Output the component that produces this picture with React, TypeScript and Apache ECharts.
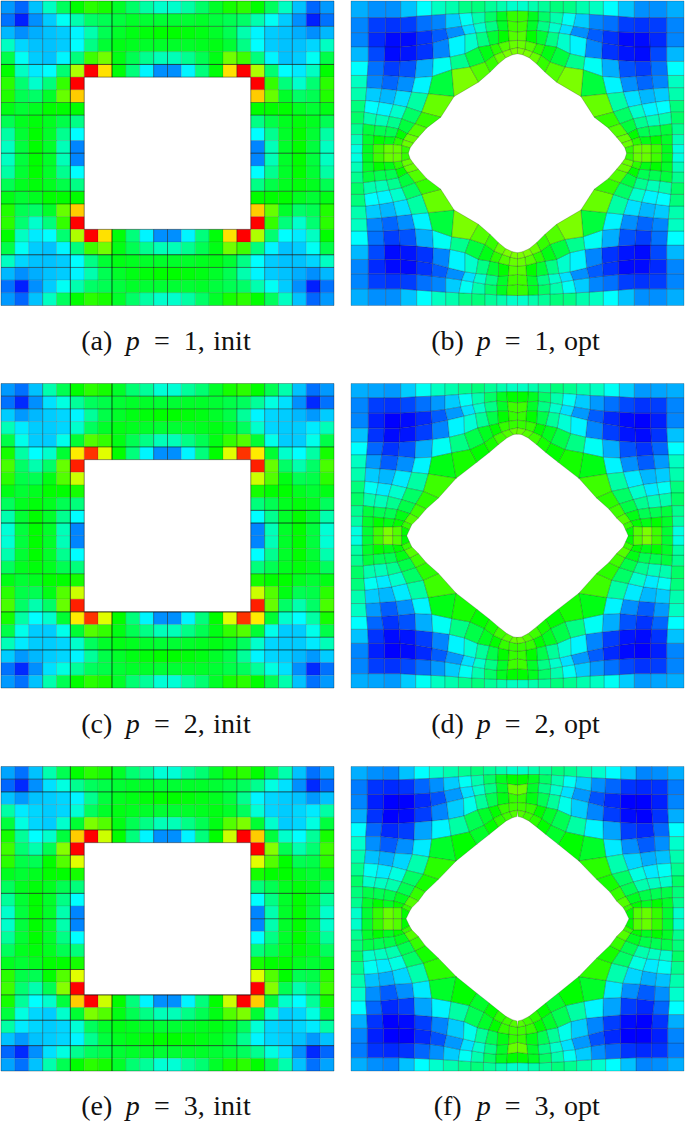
import React, { useEffect, useRef } from "react";
import * as echarts from "echarts";

// Cell values (top-left quadrant; every panel is mirrored about its centre). 0 = blue, 1 = red.
const INIT_P1 = [
  [.15,.10,.19,.31,.41,.50,.54,.52,.46,.40,.34,.30],
  [.11,.03,.14,.20,.26,.33,.40,.42,.44,.46,.45,.45],
  [.18,.14,.17,.19,.20,.24,.33,.42,.46,.48,.49,.50],
  [.31,.21,.19,.19,.20,.25,.37,.45,.48,.47,.46,.46],
  [.43,.26,.20,.19,.24,.38,.56,.61,.48,.42,.36,.32],
  [.50,.31,.23,.25,.39,.67,1.0,.78,.49,.38,.24,.14],
  [.54,.39,.30,.38,.55,1.0],
  [.53,.42,.40,.46,.60,.80],
  [.48,.45,.47,.50,.50,.50],
  [.42,.47,.49,.47,.43,.37],
  [.34,.45,.50,.46,.36,.25],
  [.31,.44,.50,.46,.32,.13],
];
const INIT_P2 = [
  [.15,.11,.19,.33,.42,.50,.54,.52,.46,.39,.35,.29],
  [.11,.04,.14,.22,.28,.35,.41,.43,.45,.46,.46,.45],
  [.20,.15,.18,.20,.21,.24,.35,.43,.46,.48,.49,.50],
  [.32,.23,.20,.20,.21,.30,.41,.46,.48,.47,.46,.45],
  [.43,.27,.20,.20,.27,.45,.58,.55,.48,.42,.37,.32],
  [.52,.34,.25,.30,.45,.77,.95,.72,.50,.38,.24,.14],
  [.57,.40,.33,.40,.60,.97],
  [.54,.43,.42,.48,.58,.70],
  [.48,.45,.47,.50,.50,.52],
  [.41,.47,.49,.47,.42,.38],
  [.33,.45,.50,.46,.36,.25],
  [.29,.44,.50,.46,.32,.13],
];
const INIT_P3 = [
  [.16,.11,.19,.33,.42,.50,.54,.52,.46,.39,.35,.29],
  [.10,.04,.14,.22,.28,.36,.41,.43,.45,.46,.46,.45],
  [.19,.15,.19,.20,.21,.24,.36,.44,.47,.48,.49,.50],
  [.34,.23,.21,.20,.21,.29,.41,.46,.48,.47,.46,.45],
  [.44,.28,.21,.20,.30,.45,.62,.58,.48,.42,.37,.32],
  [.52,.35,.25,.30,.44,.80,1.0,.70,.50,.38,.24,.14],
  [.56,.39,.33,.42,.63,1.0],
  [.54,.43,.42,.50,.58,.72],
  [.47,.45,.47,.50,.50,.52],
  [.41,.47,.49,.47,.42,.38],
  [.35,.45,.50,.46,.37,.25],
  [.30,.44,.50,.46,.33,.13],
];
const OPT_P1 = [
  [.17,.14,.14,.19,.25,.31,.33,.37,.38,.35,.33,.30],
  [.13,.06,.05,.06,.11,.13,.20,.26,.33,.40,.47,.55],
  [.13,.04,.01,.01,.05,.09,.14,.22,.30,.37,.46,.56],
  [.18,.07,.01,.02,.05,.13,.24,.30,.37,.45,.50,.58],
  [.25,.11,.06,.08,.17,.26,.36,.44,.48,.54,.58,.60],
  [.31,.13,.10,.14,.24,.44,.62,.58,.55,.60,.62,.62],
  [.33,.20,.18,.22,.34,.60],
  [.38,.25,.24,.30,.40,.55],
  [.40,.33,.32,.36,.44,.58],
  [.36,.44,.42,.42,.50,.60],
  [.32,.46,.50,.48,.54,.60],
  [.28,.47,.56,.60,.60,.55],
];
const OPT_P2 = [
  [.17,.16,.15,.20,.26,.31,.33,.36,.38,.35,.33,.31],
  [.13,.06,.05,.07,.11,.15,.20,.26,.33,.40,.47,.50],
  [.13,.03,.00,.01,.04,.09,.15,.22,.30,.37,.46,.56],
  [.19,.05,.01,.02,.06,.13,.24,.29,.35,.43,.50,.55],
  [.25,.10,.05,.08,.17,.26,.37,.43,.47,.50,.55,.55],
  [.31,.15,.09,.14,.24,.48,.52,.50,.52,.56,.58,.60],
  [.33,.20,.18,.23,.34,.56],
  [.38,.26,.23,.30,.40,.54],
  [.40,.33,.32,.36,.43,.56],
  [.36,.44,.42,.42,.48,.58],
  [.34,.46,.50,.48,.50,.55],
  [.28,.45,.56,.62,.58,.50],
];
const OPT_P3 = [
  [.17,.14,.13,.19,.25,.30,.33,.36,.38,.35,.33,.30],
  [.12,.05,.04,.05,.10,.14,.20,.26,.33,.40,.47,.50],
  [.13,.03,.00,.00,.04,.08,.15,.22,.30,.37,.46,.60],
  [.17,.05,.00,.01,.06,.13,.20,.27,.35,.42,.48,.55],
  [.25,.10,.04,.06,.16,.24,.34,.42,.46,.50,.55,.56],
  [.30,.14,.09,.14,.23,.46,.50,.46,.50,.54,.56,.58],
  [.33,.19,.17,.21,.33,.54],
  [.36,.26,.23,.28,.40,.52],
  [.40,.30,.31,.33,.42,.55],
  [.38,.43,.42,.43,.47,.58],
  [.36,.46,.50,.47,.50,.55],
  [.30,.45,.55,.60,.58,.50],
];

// Node positions of the optimised meshes (top-left quadrant), in axis units.
const NODE_X_P1 = [
  [3,55,107,152,200,245,287,327,365,405,440,470,502],
  [3,55,107,152,200,245,287,327,365,405,440,470,502],
  [3,55,107,152,200,245,287,335,370,405,440,472,502],
  [3,55,105,152,200,248,295,345,378,410,445,475,502],
  [3,55,103,150,200,250,300,345,385,420,445,477,502],
  [3,52,100,147,195,247,305,360,405,432,457,480,502],
  [3,50,95,140,185,235,312,385,420,445,467,487,502],
  [3,47,88,130,170,215,272],
  [3,43,80,118,155,195,230],
  [3,40,75,110,145,172,205],
  [3,38,72,105,137,160,190],
  [3,38,70,102,130,155,180],
  [3,37,70,102,130,155,175],
];
const NODE_Y_P1 = [
  [2,2,2,2,2,2,2,2,2,2,2,2,2],
  [52,52,52,52,48,45,42,40,38,36,34,33,32],
  [97,97,97,97,95,90,85,78,72,66,62,62,65],
  [140,140,140,140,135,128,115,103,98,95,90,92,95],
  [183,183,183,183,180,175,170,160,140,135,130,122,120],
  [225,225,225,228,232,228,208,200,185,165,155,147,142],
  [262,262,265,270,275,280,288,245,215,190,172,163,160],
  [300,300,305,312,320,335,350],
  [335,335,342,348,355,370,382],
  [370,370,375,378,385,400,410],
  [402,402,405,408,410,418,428],
  [432,432,432,432,432,435,442],
  [458,458,458,458,458,458,458],
];
const NODE_X_P2 = [
  [3,55,103,152,197,243,285,325,365,403,440,470,502],
  [3,55,103,152,197,243,285,325,365,403,440,470,502],
  [3,55,103,152,197,243,285,332,368,403,440,472,502],
  [3,55,103,150,197,246,293,342,376,408,443,475,502],
  [3,53,101,148,197,248,298,343,383,418,445,477,502],
  [3,50,95,145,195,245,305,360,403,430,455,478,502],
  [3,47,90,138,185,235,318,380,418,445,470,490,505],
  [3,45,85,125,170,220,265],
  [3,42,78,115,155,197,228],
  [3,40,72,108,142,180,205],
  [3,38,70,102,135,163,185],
  [3,37,70,100,128,155,178],
  [3,37,70,100,128,155,170],
];
const NODE_Y_P2 = [
  [2,2,2,2,2,2,2,2,2,2,2,2,2],
  [45,45,45,45,42,40,38,35,32,30,28,27,27],
  [91,91,91,91,88,85,80,72,66,60,55,57,60],
  [136,136,136,136,130,122,112,100,92,88,85,85,90],
  [178,178,178,178,175,170,163,152,135,128,122,115,112],
  [216,216,216,220,225,223,210,200,180,160,148,140,135],
  [255,255,258,262,268,273,286,238,208,185,165,155,153],
  [295,295,300,305,315,325,345],
  [330,330,335,340,350,363,378],
  [368,368,372,375,380,392,405],
  [400,400,402,405,408,415,425],
  [430,430,432,432,432,430,440],
  [458,458,458,458,458,458,458],
];
const NODE_X_P3 = [
  [3,52,100,147,193,238,280,325,363,400,437,470,502],
  [3,52,100,147,193,238,280,325,363,400,437,470,502],
  [3,52,100,147,193,240,282,330,366,402,438,472,502],
  [3,52,100,147,194,244,290,340,374,406,441,475,502],
  [3,50,97,145,194,246,296,342,382,416,443,477,502],
  [3,47,92,145,192,245,303,358,402,430,455,478,502],
  [3,47,90,135,187,237,318,380,418,445,468,488,500],
  [3,43,85,127,170,220,265],
  [3,40,78,115,155,195,225],
  [3,38,72,105,140,178,205],
  [3,38,70,100,132,163,185],
  [3,36,68,100,130,155,178],
  [3,36,68,100,130,155,168],
];
const NODE_Y_P3 = [
  [2,2,2,2,2,2,2,2,2,2,2,2,2],
  [42,42,42,42,40,38,36,33,30,28,26,26,27],
  [86,86,86,86,85,82,76,66,62,56,52,54,58],
  [130,130,130,130,128,122,110,98,90,85,80,82,88],
  [171,171,172,172,170,165,160,150,132,125,118,112,110],
  [212,212,212,218,222,220,210,198,178,158,146,138,133],
  [253,253,256,262,265,273,285,235,205,183,165,155,152],
  [292,292,295,302,313,325,340],
  [330,330,335,338,348,362,378],
  [362,362,365,370,378,392,405],
  [395,395,398,402,405,415,425],
  [425,425,425,425,425,425,437],
  [458,458,458,458,458,458,458],
];

// Grid lines that print darker in each initial-mesh panel: [line index, darkness].
const DARK_COLS = [
  [[3,.35],[5,.8],[8,.85],[11,.45],[12,.6],[17,.4],[19,.4],[21,.5],[23,.3]],
  [[3,.4],[5,.8],[8,.85],[11,.45],[12,.6],[17,.4],[19,.4],[20,.35],[21,.4]],
  [[3,.4],[5,.8],[8,.85],[11,.45],[12,.6],[17,.4],[19,.4],[21,.4]],
];
const DARK_ROWS = [
  [[1,.35],[2,.45],[5,.85],[8,.4],[9,.55],[12,.7],[15,.55],[16,.4],[20,.85],[21,.6]],
  [[1,.5],[2,.4],[5,.6],[10,.8],[11,.85],[15,.4],[18,.8],[20,.6],[21,.8]],
  [[1,.5],[2,.8],[5,.6],[7,.4],[10,.8],[12,.6],[16,.8],[18,.6],[20,.85],[22,.8]],
];

const JET: number[][] = [
  [0,0,255],[0,128,255],[0,255,255],[0,255,128],[0,255,0],[128,255,0],[255,255,0],[255,128,0],[255,0,0],
];
function jet(v: number) {
  const t = Math.max(0, Math.min(1, v)) * (JET.length - 1);
  const i = Math.min(JET.length - 2, Math.floor(t));
  const f = t - i;
  const c = JET[i].map((a, k) => Math.round(a + (JET[i + 1][k] - a) * f));
  return `rgb(${c[0]},${c[1]},${c[2]})`;
}

const inHole = (c: number, r: number) => c >= 6 && c < 18 && r >= 6 && r < 18;

function initCells(q: number[][]) {
  const out: number[][] = [];
  for (let r = 0; r < 24; r++) {
    for (let c = 0; c < 24; c++) {
      if (inHole(c, r)) continue;
      const rr = r < 12 ? r : 23 - r;
      const cc = c < 12 ? c : 23 - c;
      out.push([c, r, q[rr][cc]]);
    }
  }
  return out;
}

function lineSegments(cols: number[][], rows: number[][]) {
  const out: number[][] = [];
  for (const [k, d] of cols) {
    for (let r = 0; r < 24; r++) {
      if (!(inHole(k, r) && inHole(k - 1, r))) out.push([k, r, k, r + 1, d]);
    }
  }
  for (const [k, d] of rows) {
    for (let c = 0; c < 24; c++) {
      if (!(inHole(c, k) && inHole(c, k - 1))) out.push([c, k, c + 1, k, d]);
    }
  }
  // outline of the plate and of its hole
  for (let t = 0; t < 24; t++) {
    out.push([t, 0, t + 1, 0, 0.3], [t, 24, t + 1, 24, 0.3], [0, t, 0, t + 1, 0.3], [24, t, 24, t + 1, 0.3]);
    if (t >= 6 && t < 18) {
      out.push([t, 6, t + 1, 6, 0.5], [t, 18, t + 1, 18, 0.5], [6, t, 6, t + 1, 0.5], [18, t, 18, t + 1, 0.5]);
    }
  }
  return out;
}

function optCells(q: number[][], X: number[][], Y: number[][]) {
  const out: number[][] = [];
  const mx = (v: number, flip: boolean) => (flip ? 1004 - v : v);
  const my = (v: number, flip: boolean) => (flip ? 916 - v : v);
  for (let i = 0; i < 12; i++) {
    for (let j = 0; j < 12; j++) {
      if (i >= 6 && j >= 6) continue;
      for (const fx of [false, true]) {
        for (const fy of [false, true]) {
          out.push([
            mx(X[i][j], fx), my(Y[i][j], fy),
            mx(X[i][j + 1], fx), my(Y[i][j + 1], fy),
            mx(X[i + 1][j + 1], fx), my(Y[i + 1][j + 1], fy),
            mx(X[i + 1][j], fx), my(Y[i + 1][j], fy),
            q[i][j],
          ]);
        }
      }
    }
  }
  return out;
}

const renderInit = (_p: any, api: any) => {
  const a = api.coord([api.value(0), api.value(1)]);
  const b = api.coord([api.value(0) + 1, api.value(1) + 1]);
  return {
    type: "rect",
    shape: { x: a[0], y: a[1], width: b[0] - a[0], height: b[1] - a[1] },
    style: { fill: jet(api.value(2)), stroke: "rgba(40,40,40,0.22)", lineWidth: 0.6 },
  };
};

const renderSegment = (_p: any, api: any) => {
  const a = api.coord([api.value(0), api.value(1)]);
  const b = api.coord([api.value(2), api.value(3)]);
  return {
    type: "line",
    shape: { x1: a[0], y1: a[1], x2: b[0], y2: b[1] },
    style: { stroke: `rgba(0,0,0,${api.value(4)})`, lineWidth: 0.7, fill: "none" },
  };
};

const renderOpt = (_p: any, api: any) => {
  const pts = [0, 2, 4, 6].map((k) => api.coord([api.value(k), api.value(k + 1)]));
  return {
    type: "polygon",
    shape: { points: pts },
    style: { fill: jet(api.value(8)), stroke: "rgba(30,30,30,0.4)", lineWidth: 0.6 },
  };
};

const TOPS = [1, 383.5, 766.5];
const LABEL_TOPS = [321, 704, 1086];
const LABEL_SHIFT = -9;
const PANEL_H = 304.5;
const PANEL_W = 333;
const LEFTS = [1, 351];
const LETTERS = [["(a)", "(b)"], ["(c)", "(d)"], ["(e)", "(f)"]];
const ORDERS = ["1", "2", "3"];
const MODES = ["init", "opt"];

export default function App() {
  const ref = useRef<HTMLDivElement>(null);
  useEffect(() => {
    document.body.style.margin = "0";
    const chart = echarts.init(ref.current!, undefined, { renderer: "svg" });
    const grids: any[] = [];
    const xAxes: any[] = [];
    const yAxes: any[] = [];
    const series: any[] = [];
    const titles: any[] = [];
    const inits = [INIT_P1, INIT_P2, INIT_P3];
    const opts = [OPT_P1, OPT_P2, OPT_P3];
    const nx = [NODE_X_P1, NODE_X_P2, NODE_X_P3];
    const ny = [NODE_Y_P1, NODE_Y_P2, NODE_Y_P3];
    const base = { fontFamily: "Liberation Serif", fontSize: 28, fontWeight: "normal", color: "#111" };
    for (let row = 0; row < 3; row++) {
      for (let col = 0; col < 2; col++) {
        const idx = grids.length;
        grids.push({ left: LEFTS[col], top: TOPS[row], width: PANEL_W, height: PANEL_H, show: false });
        if (col === 0) {
          xAxes.push({ type: "value", gridIndex: idx, min: 0, max: 24, show: false });
          yAxes.push({ type: "value", gridIndex: idx, min: 0, max: 24, inverse: true, show: false });
          series.push({
            type: "custom", xAxisIndex: idx, yAxisIndex: idx, renderItem: renderInit,
            data: initCells(inits[row]), encode: { x: 0, y: 1 }, silent: true, clip: false,
          });
          series.push({
            type: "custom", xAxisIndex: idx, yAxisIndex: idx, renderItem: renderSegment,
            data: lineSegments(DARK_COLS[row], DARK_ROWS[row]), encode: { x: [0, 2], y: [1, 3] }, silent: true, clip: false,
          });
        } else {
          xAxes.push({ type: "value", gridIndex: idx, min: 3, max: 1001, show: false });
          yAxes.push({ type: "value", gridIndex: idx, min: 2, max: 914, inverse: true, show: false });
          series.push({
            type: "custom", xAxisIndex: idx, yAxisIndex: idx, renderItem: renderOpt,
            data: optCells(opts[row], nx[row], ny[row]), encode: { x: [0, 2, 4, 6], y: [1, 3, 5, 7] }, silent: true, clip: false,
          });
        }
        titles.push({
          left: LEFTS[col] + PANEL_W / 2 + LABEL_SHIFT,
          top: LABEL_TOPS[row],
          textAlign: "center",
          text: `{a|${LETTERS[row][col]} }{p|p }{e|= }{n|${ORDERS[row]}, }{m|${MODES[col]}}`,
          textStyle: {
            fontWeight: "normal",
            rich: {
              a: { ...base, width: 48 },
              p: { ...base, fontStyle: "italic", width: 24 },
              e: { ...base, width: 34 },
              n: { ...base, width: 31 },
              m: { ...base },
            },
          },
        });
      }
    }
    chart.setOption({
      animation: false,
      backgroundColor: "#ffffff",
      title: titles,
      grid: grids,
      xAxis: xAxes,
      yAxis: yAxes,
      series,
    });
    return () => chart.dispose();
  }, []);
  return <div ref={ref} style={{ position: "absolute", left: 0, top: 0, width: 685, height: 1121 }} />;
}
